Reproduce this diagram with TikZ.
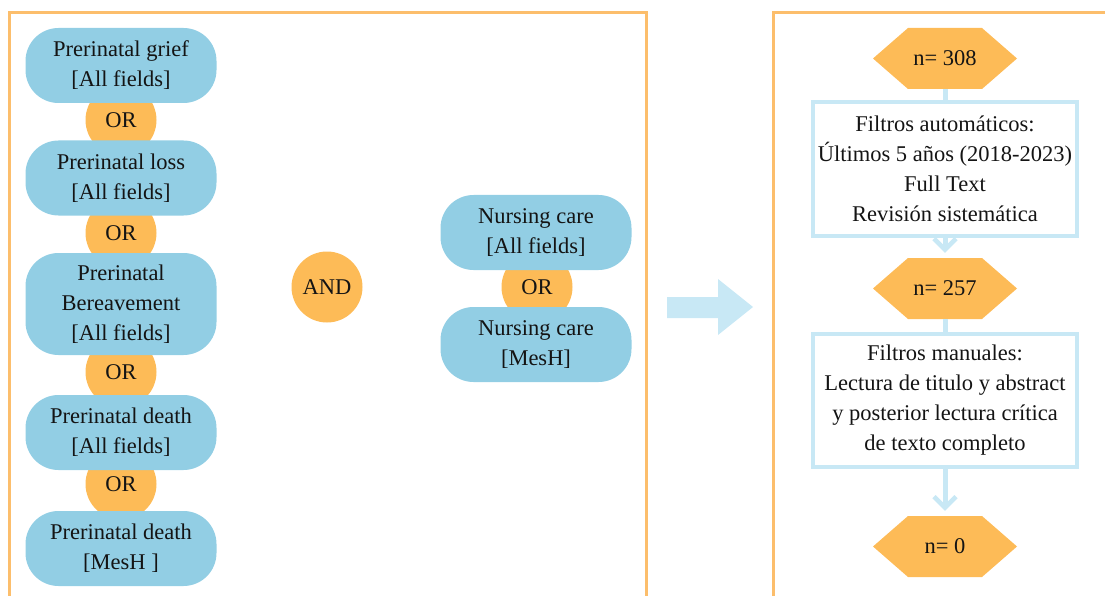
\documentclass[tikz,border=0pt]{standalone}
\usepackage{fontspec}
\setmainfont{Liberation Serif}
\usetikzlibrary{arrows.meta}
\definecolor{pillblue}{RGB}{146,206,228}
\definecolor{orfill}{RGB}{253,187,87}
\definecolor{frameor}{RGB}{252,190,108}
\definecolor{lightblue}{RGB}{200,232,245}
\definecolor{txt}{RGB}{20,20,20}
\begin{document}
\begin{tikzpicture}[x=1pt,y=-1pt,
  font=\fontsize{22.5}{30}\selectfont, text=txt,
  pill/.style={fill=pillblue, rounded corners=33pt, minimum width=191pt, minimum height=75pt, inner sep=0pt, align=center},
  orc/.style={circle, fill=orfill, minimum size=71pt, inner sep=0pt},
  hexn/.style={minimum width=144pt, minimum height=61pt, inner sep=0pt,
    path picture={\fill[orfill] (path picture bounding box.west) -- ([xshift=35pt]path picture bounding box.north west) -- ([xshift=-35pt]path picture bounding box.north east) -- (path picture bounding box.east) -- ([xshift=-35pt]path picture bounding box.south east) -- ([xshift=35pt]path picture bounding box.south west) -- cycle;}},
  filt/.style={draw=lightblue, line width=4pt, minimum width=264pt, inner sep=0pt, align=center},
  conn/.style={draw=lightblue, line width=5pt},
  tipped/.style={-{Straight Barb[length=11pt,width=22pt,line width=4.5pt]}, shorten >=5pt},
  frame/.style={draw=frameor, line width=3pt}
]
\useasboundingbox (0,0) rectangle (1105,596);
% frames
\draw[frame] (9,596) -- (9,13) -- (646,13) -- (646,596);
\draw[frame] (773,596) -- (773,13) -- (1105,13);
% left column
\node[orc] (or1) at (121,120) {OR};
\node[orc] (or2) at (121,233) {OR};
\node[orc] (or3) at (121,372) {OR};
\node[orc] (or4) at (121,484) {OR};
\node[pill] (p1) at (121,65.5) {Prerinatal grief\\{[All fields]}};
\node[pill] (p2) at (121,178) {Prerinatal loss\\{[All fields]}};
\node[pill, minimum height=102pt] (p3) at (121,304) {Prerinatal\\Bereavement\\{[All fields]}};
\node[pill] (p4) at (121,432.5) {Prerinatal death\\{[All fields]}};
\node[pill] (p5) at (121,548.5) {Prerinatal death\\{[MesH ]}};
% AND
\node[orc] (and) at (327,287) {AND};
% nursing
\node[orc] (or5) at (537,287) {OR};
\node[pill] (n1) at (536,232.5) {Nursing care\\{[All fields]}};
\node[pill] (n2) at (536,344.5) {Nursing care\\{[MesH]}};
% big arrow
\fill[lightblue] (667,297) -- (718,297) -- (718,279) -- (753,307) -- (718,335) -- (718,318) -- (667,318) -- cycle;
% right column
\node[hexn] (h1) at (945,58.5) {n= 308};
\node[filt, minimum height=134pt] (b1) at (945,169) {Filtros automáticos:\\Últimos 5 años (2018-2023)\\Full Text\\Revisión sistemática};
\node[hexn] (h2) at (945,288.5) {n= 257};
\node[filt, minimum height=133pt] (b2) at (945,400.5) {Filtros manuales:\\Lectura de titulo y abstract\\y posterior lectura crítica\\de texto completo};
\node[hexn] (h3) at (945,546.5) {n= 0};
\draw[conn] (h1) -- (b1);
\draw[conn, tipped] (b1) -- (h2);
\draw[conn] (h2) -- (b2);
\draw[conn, tipped] (b2) -- (h3);
\end{tikzpicture}
\end{document}
